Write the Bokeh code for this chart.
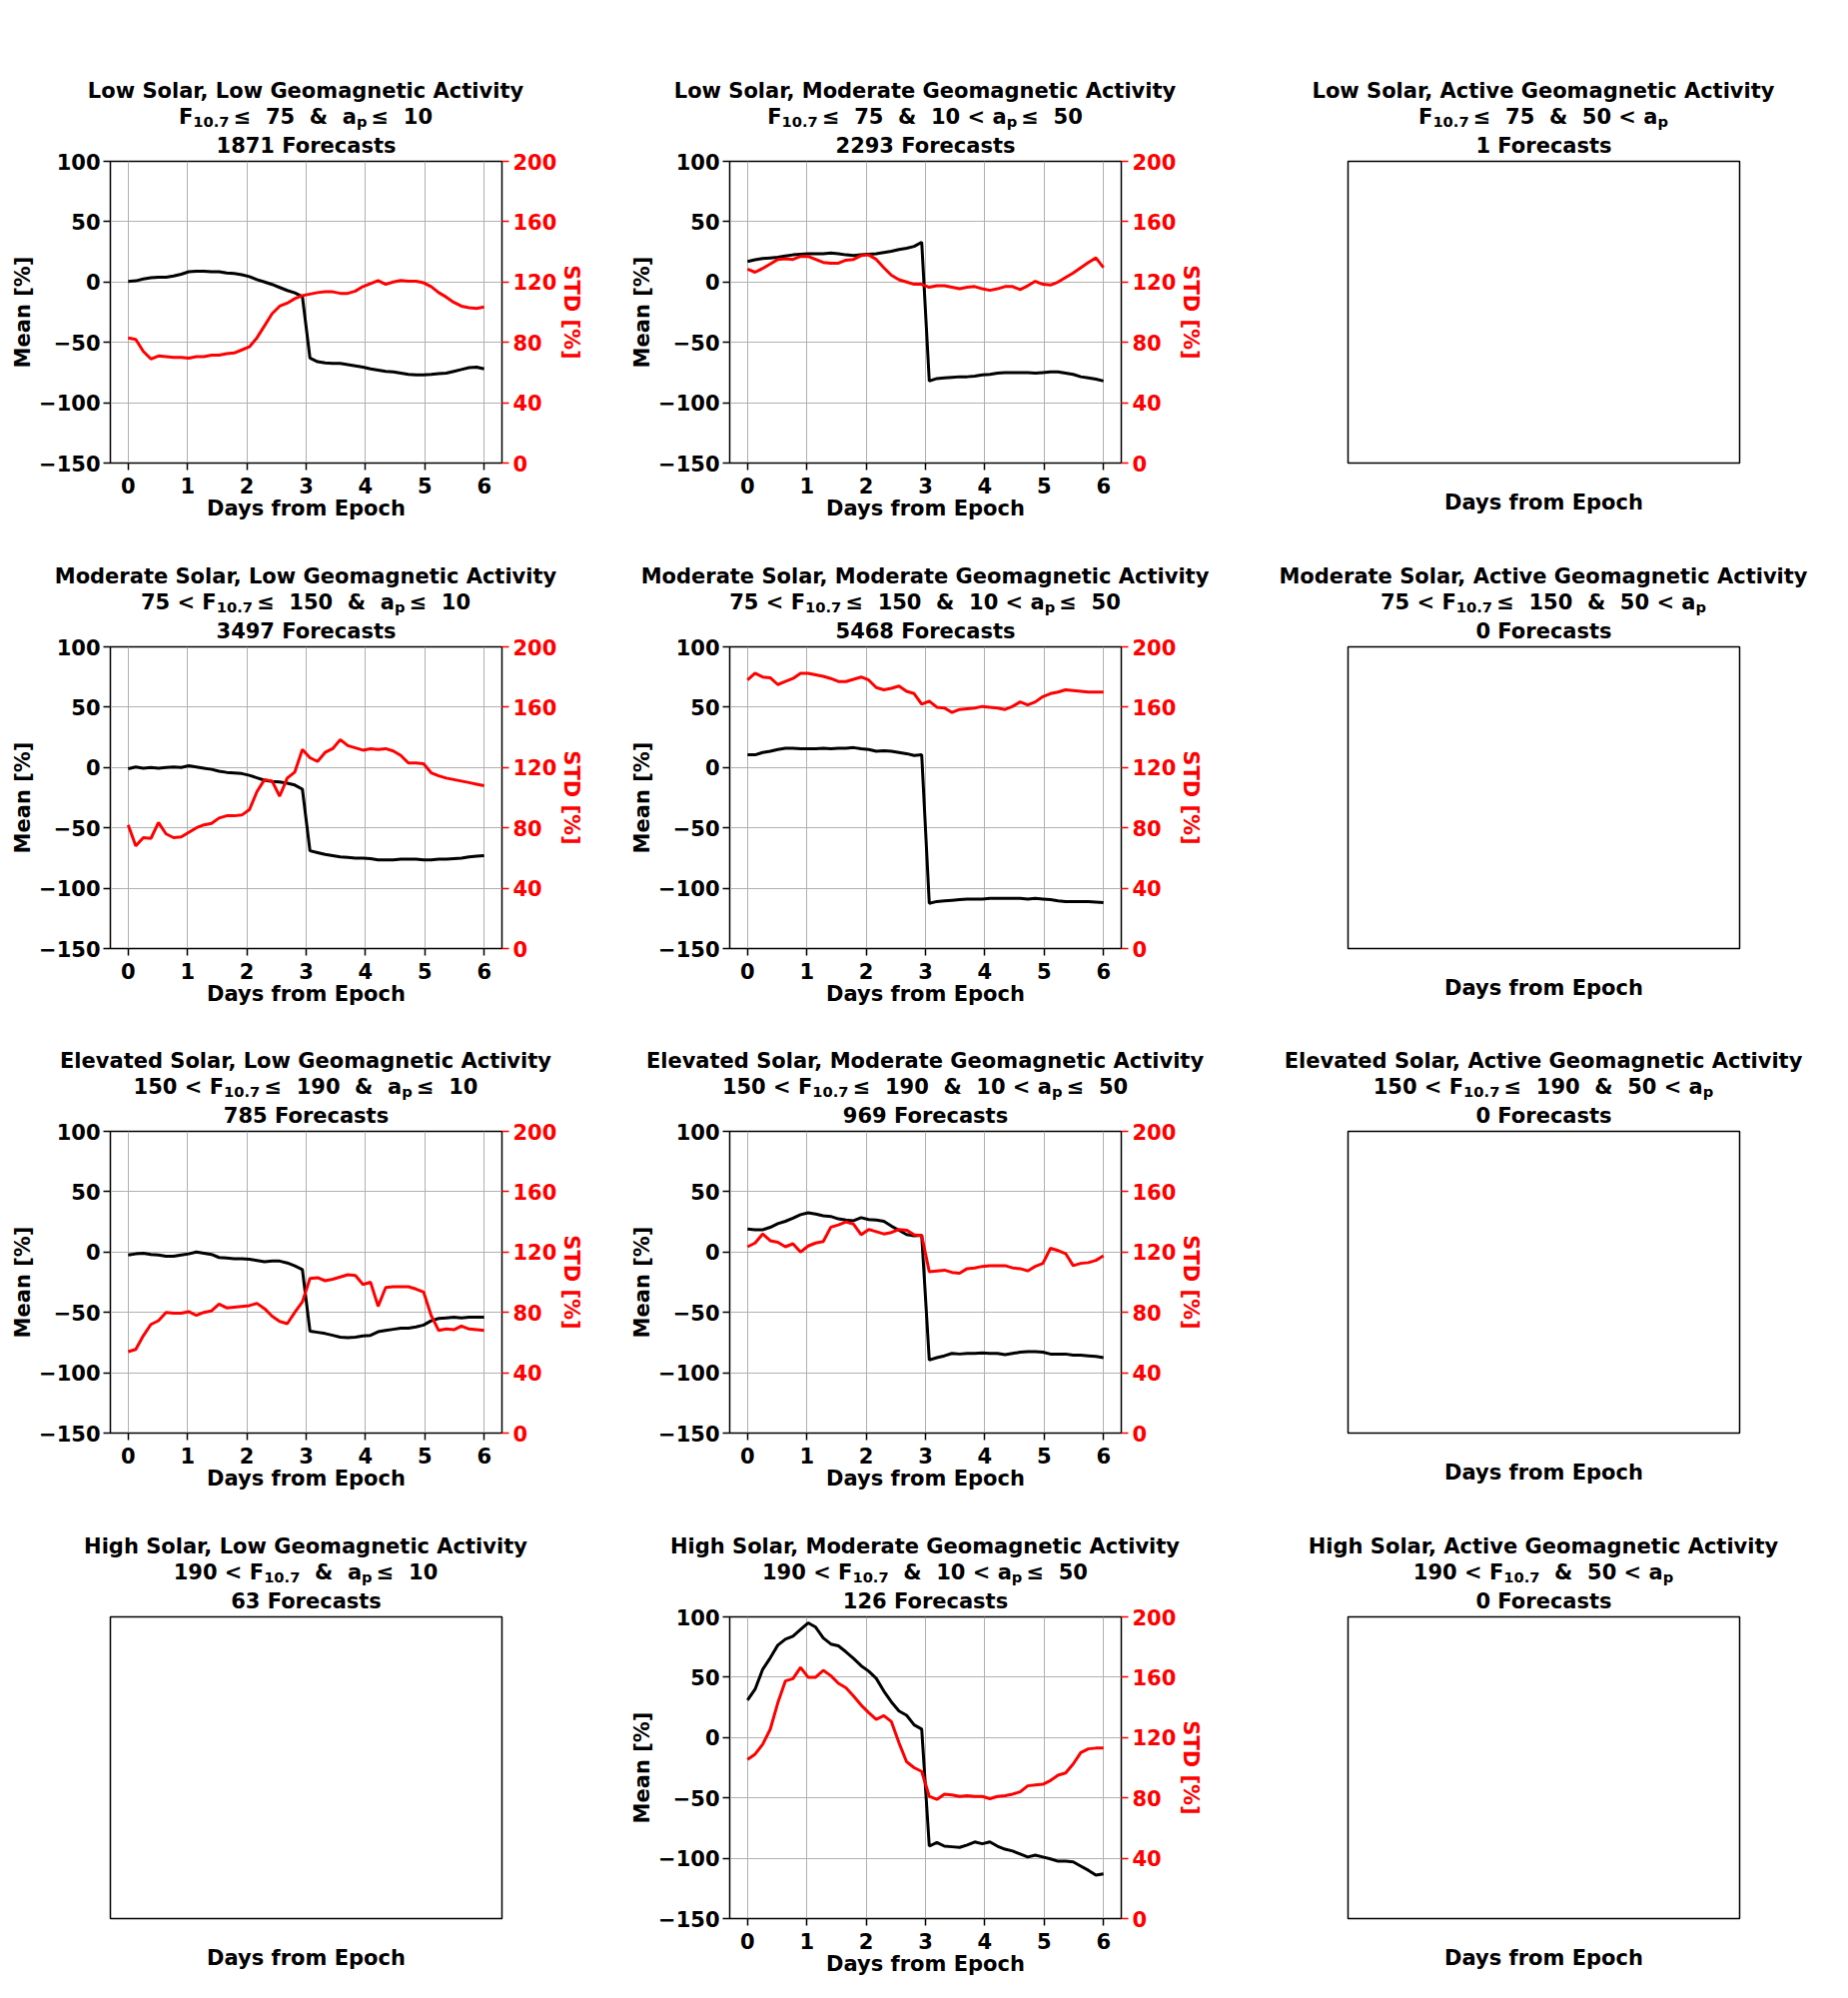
from bokeh.plotting import figure
from bokeh.models import Range1d, LinearAxis, FixedTicker, Div
from bokeh.layouts import column, row
from bokeh.embed import file_html
from bokeh.resources import INLINE

# ---------------- data ----------------
DAYS = [0.0, 0.1277, 0.2553, 0.3830, 0.5106, 0.6383, 0.7660, 0.8936, 1.0213, 1.1489, 1.2766,
        1.4043, 1.5319, 1.6596, 1.7872, 1.9149, 2.0426, 2.1702, 2.2979, 2.4255, 2.5532, 2.6809,
        2.8085, 2.9362, 3.0638, 3.1915, 3.3191, 3.4468, 3.5745, 3.7021, 3.8298, 3.9574, 4.0851,
        4.2128, 4.3404, 4.4681, 4.5957, 4.7234, 4.8511, 4.9787, 5.1064, 5.2340, 5.3617, 5.4894,
        5.6170, 5.7447, 5.8723, 6.0]

MEAN_LOW_LOW = [0.5, 1, 2.5, 3.5, 4, 4, 5, 6.5, 8.5, 9, 9, 8.5, 8.5, 7.5, 7, 6, 4.5, 2, 0, -2,
                -4.5, -7, -9, -12, -63, -66, -67, -67.5, -67.5, -68.5, -69.5, -70.5, -72, -73,
                -74, -74.5, -75.5, -76.5, -77, -77, -76.5, -76, -75.5, -74, -72.5, -71, -70.5, -72]
STD_LOW_LOW = [83, 82, 74, 69, 71, 70.5, 70, 70, 69.5, 70.5, 70.5, 71.5, 71.5, 72.5, 73, 75, 77,
               83, 91, 99, 104, 106, 109, 111, 112, 113, 113.5, 113.5, 112.5, 112.5, 114, 117,
               119, 121, 118.5, 120, 121, 120.5, 120.5, 119.5, 117, 113, 110, 106.5, 104, 103,
               102.5, 103.5]

MEAN_LOW_MOD = [17, 18.5, 19.5, 20, 20.5, 21.5, 22.5, 23, 23.5, 23.5, 23.5, 24, 23.5, 22.5, 22,
                22.5, 23, 23.5, 24.5, 25.5, 27, 28, 29.5, 33, -82, -80, -79.5, -79, -78.5, -78.5,
                -78, -77, -76.5, -75.5, -75, -75, -75, -75, -75.5, -75, -74.5, -74.5, -75.5,
                -76.5, -78.5, -79.5, -80.5, -82]
STD_LOW_MOD = [128.5, 126.5, 129, 132, 135, 135.5, 135, 137, 137, 135, 133, 132.5, 132.5, 134.5,
               135, 137.5, 138, 135, 129.5, 124.5, 121.5, 120, 118.5, 118.5, 116.5, 117.5, 117.5,
               116.5, 115.5, 116.5, 117, 115.5, 114.5, 115.5, 117, 117, 115, 117.5, 120.5, 118.5,
               118, 120, 123, 126, 129.5, 133, 136, 129.5]

MEAN_MOD_LOW = [-1, 0.5, -0.5, 0, -0.5, 0, 0.5, 0, 1.5, 0.5, -0.5, -1.5, -3, -4, -4.5, -5, -6.5,
                -8.5, -10.5, -11.5, -12, -13, -14.5, -18, -69, -70.5, -72, -73, -74, -74.5, -75,
                -75, -75.5, -76.5, -76.5, -76.5, -76, -76, -76, -76.5, -76.5, -76, -76, -75.5,
                -75, -74, -73.5, -73]
STD_MOD_LOW = [82, 68, 73.5, 73, 83.5, 76, 73.5, 74, 77, 80, 82, 83, 86.5, 88, 88, 88.5, 92, 104,
               112, 111, 101, 113, 117, 132, 126.5, 124, 130, 132.5, 138.5, 134.5, 133, 131.5,
               132.5, 132, 132.5, 131, 128, 123, 123, 122.5, 116.5, 114.5, 113, 112, 111, 110,
               109, 108]

MEAN_MOD_MOD = [10.5, 10.5, 12.5, 13.5, 15, 16, 16, 15.5, 15.5, 15.5, 16, 15.5, 16, 16, 16.5,
                15.5, 15, 13.5, 14, 13.5, 12.5, 11.5, 10, 10.5, -112.5, -111, -110.5, -110,
                -109.5, -109, -109, -109, -108.5, -108.5, -108.5, -108.5, -108.5, -109, -108.5,
                -109, -109.5, -110.5, -111, -111, -111, -111, -111.5, -112]
STD_MOD_MOD = [178, 182.5, 180, 179.5, 175, 177, 179, 182.5, 182.5, 181.5, 180.5, 179, 177, 177,
               178.5, 180, 178, 173, 171.5, 172.5, 174, 170.5, 169, 162, 164, 160, 159.5, 156.5,
               158.5, 159, 159.5, 160.5, 160, 159.5, 158.5, 160.5, 163.5, 161.5, 163.5, 167, 169,
               170, 171.5, 171, 170.5, 170, 170, 170]

MEAN_ELEV_LOW = [-2.5, -1.5, -1, -2, -2.5, -3.5, -3.5, -2.5, -1.5, 0, -1, -2, -4.5, -5, -5.5,
                 -5.5, -6, -7, -8, -7.5, -7.5, -9, -11.5, -14.5, -65.5, -66.5, -67.5, -69, -70.5,
                 -71, -70.5, -69.5, -69, -66, -65, -64, -63, -63, -62, -60.5, -57, -55, -54.5,
                 -54, -54.5, -54, -54, -54]
STD_ELEV_LOW = [54, 55.5, 64.5, 72, 74.5, 80, 79.5, 79.5, 80.5, 78, 80, 81, 85.5, 83, 83.5, 84,
                84.5, 86, 82.5, 77.5, 74, 72.5, 80, 87, 102.5, 103, 101, 102, 103.5, 105, 104.5,
                98.5, 100, 84, 96.5, 97, 97, 97, 95.5, 93.5, 78, 68, 69, 68.5, 71, 69, 68.5, 68]

MEAN_ELEV_MOD = [19, 18.5, 18.5, 20.5, 23.5, 25.5, 28, 31, 32.5, 31.5, 30, 29.5, 27.5, 26.5, 26,
                 28.5, 27, 26.5, 25.5, 21.5, 18, 14.5, 13.5, 14, -89.5, -87.5, -86, -84, -84.5,
                 -84, -84, -83.5, -84, -84, -85, -84, -83, -82.5, -82.5, -83, -84.5, -84.5,
                 -84.5, -85.5, -85.5, -86, -86.5, -87.5]
STD_ELEV_MOD = [123.5, 126, 132, 127.5, 126.5, 123.5, 125.5, 120, 124, 126, 127, 136.5, 138, 140,
                138.5, 131.5, 135, 133.5, 132, 133, 135, 134.5, 131.5, 131, 107, 107.5, 108,
                106.5, 106, 109, 109.5, 110.5, 111, 111, 111, 109.5, 109, 107.5, 110.5, 112.5,
                122.5, 121, 119, 111, 112.5, 113, 114.5, 117.5]

MEAN_HIGH_MOD = [31, 40, 56.5, 66, 76.5, 81.5, 84, 89.5, 95, 91.5, 82.5, 77.5, 76, 71, 65.5, 59.5,
                 55, 49, 38.5, 29.5, 22, 18.5, 10.5, 7, -90, -87, -90, -90.5, -91, -89, -86.5,
                 -88, -86.5, -90, -92.5, -94, -96.5, -99, -97.5, -99, -100.5, -102.5, -102.5,
                 -103, -106.5, -110, -114, -113]
STD_HIGH_MOD = [105.5, 109, 115.5, 125.5, 143, 157.5, 159, 166.5, 160, 160, 164.5, 161, 156, 153,
                147.5, 141.5, 136.5, 132, 134.5, 130.5, 116.5, 104, 100, 97.5, 81, 79, 82.5, 82,
                81, 81.5, 81, 81, 79.5, 81, 81.5, 82.5, 84, 88, 88.5, 89, 91.5, 95, 96.5, 102.5,
                110, 112.5, 113, 113]

SOLAR_NAMES = ["Low", "Moderate", "Elevated", "High"]
GEOMAG_NAMES = ["Low", "Moderate", "Active"]
F107_LO = [None, 75, 150, 190]
F107_HI = [75, 150, 190, None]
AP_LO = [None, 10, 50]
AP_HI = [10, 50, None]
COUNTS = [[1871, 2293, 1], [3497, 5468, 0], [785, 969, 0], [63, 126, 0]]

SERIES = {
    (0, 0): (MEAN_LOW_LOW, STD_LOW_LOW),
    (0, 1): (MEAN_LOW_MOD, STD_LOW_MOD),
    (1, 0): (MEAN_MOD_LOW, STD_MOD_LOW),
    (1, 1): (MEAN_MOD_MOD, STD_MOD_MOD),
    (2, 0): (MEAN_ELEV_LOW, STD_ELEV_LOW),
    (2, 1): (MEAN_ELEV_MOD, STD_ELEV_MOD),
    (3, 1): (MEAN_HIGH_MOD, STD_HIGH_MOD),
}

X_TICKS = [0, 1, 2, 3, 4, 5, 6]
MEAN_TICKS = [-150, -100, -50, 0, 50, 100]
STD_TICKS = [0, 40, 80, 120, 160, 200]

# ---------------- layout constants ----------------
FONT = "DejaVu Sans"
FRAME_W, FRAME_H = 392, 305
COL_W = [625, 620, 594]
BORDER_L = [110, 105, 104]
TOP_B = 30
BOT_B = 62
FRAME_TOP = [158, 644, 1129, 1615]
RED = "#ff0000"

SUB = '<sub style="font-size:0.7em;vertical-align:-3px;line-height:0">{}</sub>'


def cond(sym, lo, hi):
    s = ""
    if lo is not None:
        s += f"{lo} &lt; "
    s += sym
    if hi is not None:
        s += f"&thinsp;&le;&nbsp;&nbsp;{hi}"
    return s


def style_axis(ax, color, label_standoff, axis_label_standoff):
    ax.major_label_text_font = FONT
    ax.major_label_text_font_style = "bold"
    ax.major_label_text_font_size = "21px"
    ax.major_label_text_color = color
    ax.axis_label_text_font = FONT
    ax.axis_label_text_font_style = "bold"
    ax.axis_label_text_font_size = "21px"
    ax.axis_label_text_color = color
    ax.major_tick_line_color = color
    ax.major_tick_line_width = 1.5
    ax.major_tick_out = 7
    ax.major_tick_in = 0
    ax.minor_tick_line_color = None
    ax.axis_line_color = None
    ax.major_label_standoff = label_standoff
    ax.axis_label_standoff = axis_label_standoff


def make_panel(r, c):
    p = figure(width=COL_W[c], height=TOP_B + FRAME_H + BOT_B,
               x_range=Range1d(-0.3, 6.3), y_range=Range1d(-150, 100),
               output_backend="svg", toolbar_location=None,
               min_border_left=BORDER_L[c],
               min_border_right=COL_W[c] - BORDER_L[c] - FRAME_W,
               min_border_top=TOP_B, min_border_bottom=BOT_B, margin=0)
    p.border_fill_color = None
    p.title.text = f"{COUNTS[r][c]} Forecasts"
    p.title.align = "center"
    p.title.text_font = FONT
    p.title.text_font_style = "bold"
    p.title.text_font_size = "21px"
    p.title.text_color = "black"
    p.title.standoff = 7
    p.outline_line_color = "black"
    p.outline_line_width = 1.5
    p.outline_line_alpha = 1.0
    p.xaxis.axis_label = "Days from Epoch"

    if (r, c) in SERIES:
        mean, std = SERIES[(r, c)]
        p.extra_y_ranges = {"std": Range1d(0, 200)}
        p.xaxis.ticker = FixedTicker(ticks=X_TICKS)
        p.yaxis.ticker = FixedTicker(ticks=MEAN_TICKS)
        p.yaxis.major_label_overrides = {t: (("\u2212" + str(-t)) if t < 0 else str(t)) for t in MEAN_TICKS}
        p.yaxis.axis_label = "Mean [%]"
        style_axis(p.xaxis[0], "black", 7, 0)
        style_axis(p.yaxis[0], "black", 3, 1)
        rax = LinearAxis(y_range_name="std", ticker=FixedTicker(ticks=STD_TICKS),
                         axis_label="STD [%]")
        style_axis(rax, RED, 4, 0)
        p.add_layout(rax, "right")
        p.grid.grid_line_color = "#b0b0b0"
        p.grid.grid_line_width = 1
        p.line(DAYS, mean, line_color="black", line_width=3)
        p.line(DAYS, std, line_color=RED, line_width=3, y_range_name="std")
    else:
        p.xaxis.ticker = FixedTicker(ticks=[])
        style_axis(p.xaxis[0], "black", 0, 27)
        p.xaxis.major_tick_out = 0
        p.yaxis.visible = False
        p.grid.visible = False
    return p


rows = []
prev_bottom = 0
for r in range(4):
    div_h = FRAME_TOP[r] - TOP_B - prev_bottom
    cells = []
    for c in range(3):
        line1 = f"{SOLAR_NAMES[r]} Solar, {GEOMAG_NAMES[c]} Geomagnetic Activity"
        fpart = cond("F" + SUB.format("10.7"), F107_LO[r], F107_HI[r])
        apart = cond("a" + SUB.format("p"), AP_LO[c], AP_HI[c])
        line2 = fpart + "&nbsp;&nbsp;&amp;&nbsp;&nbsp;" + apart
        cx = BORDER_L[c] + FRAME_W // 2
        html = (f'<div style="width:{2 * cx}px;padding-top:{div_h - 50}px;text-align:center;'
                f'white-space:nowrap;font-family:\'DejaVu Sans\';font-weight:bold;font-size:21px;'
                f'line-height:26px;color:black">{line1}<br>{line2}</div>')
        div = Div(text=html, width=COL_W[c], height=div_h, margin=0,
                  styles={"overflow": "visible"})
        cells.append(column(div, make_panel(r, c), margin=0, spacing=0))
    rows.append(row(*cells, margin=0, spacing=0))
    prev_bottom = FRAME_TOP[r] + FRAME_H + BOT_B

layout = column(*rows, margin=0, spacing=0)
open("out.html", "w").write(file_html(layout, INLINE))
